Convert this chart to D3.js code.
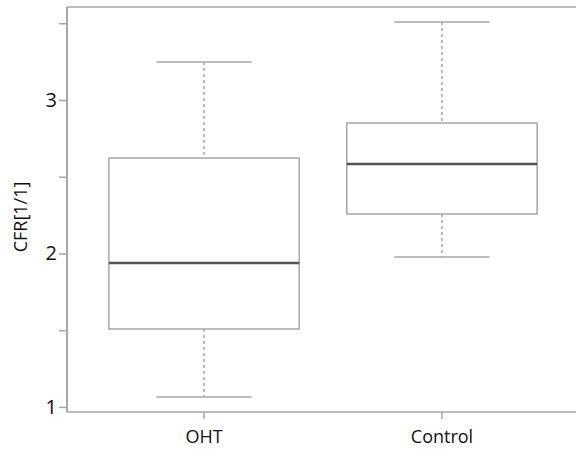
<!DOCTYPE html>
<html>
<head>
<meta charset="utf-8">
<script src="https://cdn.jsdelivr.net/npm/d3@7"></script>
<style>
  body { margin: 0; background: #fff; }
  text { font-family: "Open Sans", sans-serif; }
</style>
</head>
<body>
<div id="chart"></div>
<script>
// box plot summaries
var groups = ["OHT", "Control"];
var whiskerLow = [1.065, 1.977];
var q1 = [1.508, 2.257];
var median = [1.938, 2.583];
var q3 = [2.622, 2.850];
var whiskerHigh = [3.248, 3.508];
var majorTicks = [1, 2, 3];
var allTicks = [1, 1.5, 2, 2.5, 3, 3.5];

var width = 576, height = 456;
var margin = {top: 7, left: 67, bottom: 44};

var svg = d3.select("#chart")
  .append("svg")
    .attr("width", width)
    .attr("height", height);

var x = d3.scaleBand()
  .domain(groups)
  .range([margin.left, 579])
  .paddingInner(0)
  .paddingOuter(0.076);

var y = d3.scaleLinear()
  .domain([0.967, 3.606])
  .range([height - margin.bottom, margin.top]);

var data = groups.map(function(g, i) {
  return {name: g, lo: whiskerLow[i], q1: q1[i], med: median[i], q3: q3[i], hi: whiskerHigh[i]};
});

var grey = "#a6a6a6";

// frame
svg.append("line")
  .attr("x1", margin.left).attr("x2", width)
  .attr("y1", margin.top).attr("y2", margin.top)
  .attr("stroke", grey).attr("stroke-width", 1.5);

// y axis
var yAxis = svg.append("g")
  .attr("transform", "translate(" + margin.left + ",0)")
  .call(d3.axisLeft(y).tickValues(allTicks).tickSize(8).tickSizeOuter(0)
    .tickFormat(function(d) { return majorTicks.indexOf(d) >= 0 ? d3.format("d")(d) : ""; }));
yAxis.select(".domain").attr("stroke", grey).attr("stroke-width", 2)
  .attr("d", "M0," + margin.top + "V" + (height - margin.bottom));
yAxis.selectAll(".tick line").attr("stroke", grey).attr("stroke-width", 1.5);
yAxis.selectAll(".tick text")
  .attr("fill", "#111").style("font-size", "20px").attr("x", -10);

// x axis
var xAxis = svg.append("g")
  .attr("transform", "translate(0," + (height - margin.bottom) + ")")
  .call(d3.axisBottom(x).tickSize(7).tickSizeOuter(0));
xAxis.select(".domain").attr("stroke", grey).attr("stroke-width", 1.5)
  .attr("d", "M" + margin.left + ",0H" + width);
xAxis.selectAll(".tick line").attr("stroke", grey).attr("stroke-width", 1.5);
xAxis.selectAll(".tick text")
  .attr("fill", "#111").style("font-size", "18px").attr("y", 18);

// y label
svg.append("text")
  .attr("transform", "translate(27," + 217 + ") rotate(-90)")
  .attr("text-anchor", "middle")
  .attr("fill", "#111")
  .style("font-size", "18px")
  .text("CFR[1/1]");

var bw = x.bandwidth();
var box = svg.selectAll(".box").data(data).enter().append("g").attr("class", "box");

// whiskers
box.append("line")
  .attr("x1", function(d) { return x(d.name) + bw / 2; })
  .attr("x2", function(d) { return x(d.name) + bw / 2; })
  .attr("y1", function(d) { return y(d.hi); })
  .attr("y2", function(d) { return y(d.q3); })
  .attr("stroke", grey).attr("stroke-width", 1.5).attr("stroke-dasharray", "3,3");
box.append("line")
  .attr("x1", function(d) { return x(d.name) + bw / 2; })
  .attr("x2", function(d) { return x(d.name) + bw / 2; })
  .attr("y1", function(d) { return y(d.q1); })
  .attr("y2", function(d) { return y(d.lo); })
  .attr("stroke", grey).attr("stroke-width", 1.5).attr("stroke-dasharray", "3,3");

// caps
["hi", "lo"].forEach(function(k) {
  box.append("line")
    .attr("x1", function(d) { return x(d.name) + bw * 0.3; })
    .attr("x2", function(d) { return x(d.name) + bw * 0.7; })
    .attr("y1", function(d) { return y(d[k]); })
    .attr("y2", function(d) { return y(d[k]); })
    .attr("stroke", grey).attr("stroke-width", 1.5);
});

// box
box.append("rect")
  .attr("x", function(d) { return x(d.name) + bw * 0.1; })
  .attr("width", bw * 0.8)
  .attr("y", function(d) { return y(d.q3); })
  .attr("height", function(d) { return y(d.q1) - y(d.q3); })
  .attr("fill", "none").attr("stroke", grey).attr("stroke-width", 1.5);

// median
box.append("line")
  .attr("x1", function(d) { return x(d.name) + bw * 0.1; })
  .attr("x2", function(d) { return x(d.name) + bw * 0.9; })
  .attr("y1", function(d) { return y(d.med); })
  .attr("y2", function(d) { return y(d.med); })
  .attr("stroke", "#555").attr("stroke-width", 2.5);
</script>
</body>
</html>
